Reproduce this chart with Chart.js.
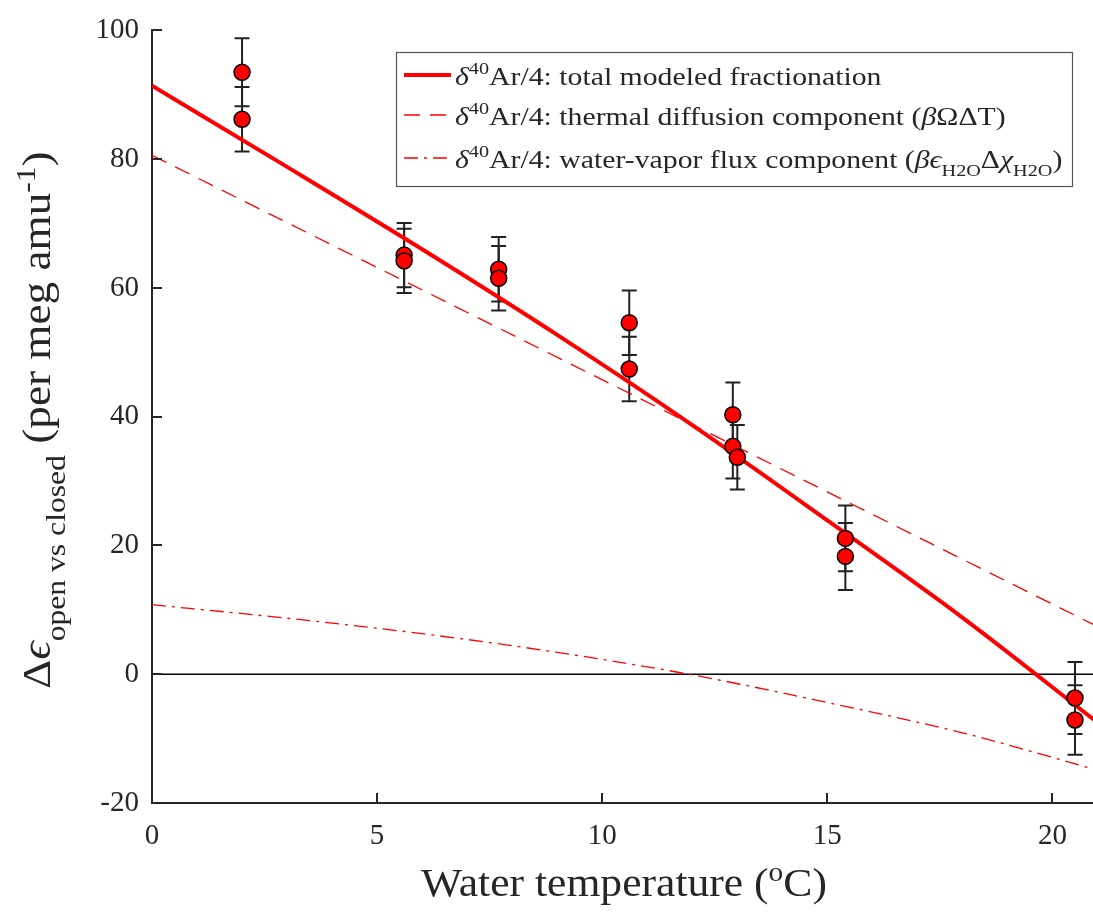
<!DOCTYPE html>
<html>
<head>
<meta charset="utf-8">
<script src="https://cdn.jsdelivr.net/npm/chart.js@4.4.1/dist/chart.umd.min.js"></script>
<style>
  html, body { margin: 0; padding: 0; background: #fff; overflow: hidden; }
  #wrap { width: 1093px; height: 919px; }
</style>
</head>
<body>
<div id="wrap"><canvas id="chart" width="1093" height="919"></canvas></div>
<script>
// Open-minus-closed Ar fractionation vs water temperature, with 1-sigma bars
const tempC     = [2.0, 2.0, 5.6, 5.6, 7.7, 7.7, 10.6, 10.6, 12.9, 12.9, 13.0, 15.4, 15.4, 20.5, 20.5];
const deltaEps  = [93.5, 86.2, 65.1, 64.2, 62.9, 61.5, 54.6, 47.4, 40.3, 35.4, 33.7, 21.1, 18.3, -3.7, -7.1];
const deltaErr  = [5.3, 5.0, 5.0, 5.0, 5.0, 5.0, 5.0, 5.0, 5.0, 5.0, 5.0, 5.1, 5.2, 5.6, 5.4];

// model curves sampled along the temperature axis
const modelTemp    = [0, 3, 6, 9, 12, 15, 18, 21];
const totalModel   = [91.4, 78.8, 66.0, 52.7, 38.7, 23.9, 8.8, -7.5];
const vaporModel   = [10.8, 8.7, 6.3, 3.4, -0.1, -4.4, -9.1, -14.9];
const thermalTemp  = [0, 21];
const thermalModel = [80.6, 7.4];

const xTicks = [0, 5, 10, 15, 20];
const yTicks = [-20, 0, 20, 40, 60, 80, 100];

const SERIF = '"Liberation Serif", "DejaVu Serif", serif';
const INK = '#262626';
const RED = '#ff0000';

const pts = (xs, ys) => xs.map((x, i) => ({ x, y: ys[i] }));

// draw a run of text pieces (normal / sub / superscript) from x on baseline y,
// stretched horizontally by k; returns the drawn width
function textRuns(ctx, runs, x, y, k, measureOnly) {
  let w = 0;
  ctx.save();
  ctx.translate(x, y);
  ctx.scale(k, 1);
  for (const r of runs) {
    ctx.font = (r.italic ? 'italic ' : '') + r.size + 'px ' + SERIF;
    if (!measureOnly) ctx.fillText(r.t, w, r.dy || 0);
    w += ctx.measureText(r.t).width;
  }
  ctx.restore();
  return w * k;
}

const errorBars = {
  id: 'errorBars',
  beforeDatasetsDraw(chart) {
    const { ctx, scales: { x, y } } = chart;
    ctx.save();
    ctx.strokeStyle = '#222';
    ctx.lineWidth = 2;
    tempC.forEach((t, i) => {
      const px = x.getPixelForValue(t);
      const top = y.getPixelForValue(deltaEps[i] + deltaErr[i]);
      const bot = y.getPixelForValue(deltaEps[i] - deltaErr[i]);
      ctx.beginPath();
      ctx.moveTo(px, top); ctx.lineTo(px, bot);
      ctx.moveTo(px - 7.5, top); ctx.lineTo(px + 7.5, top);
      ctx.moveTo(px - 7.5, bot); ctx.lineTo(px + 7.5, bot);
      ctx.stroke();
    });
    ctx.restore();
  }
};

const decor = {
  id: 'decor',
  afterDraw(chart) {
    const { ctx, chartArea: a, scales: { x, y } } = chart;
    ctx.save();
    // inward tick marks
    ctx.strokeStyle = INK;
    ctx.lineWidth = 2;
    ctx.beginPath();
    yTicks.forEach(v => {
      const py = Math.round(y.getPixelForValue(v));
      ctx.moveTo(a.left, py); ctx.lineTo(a.left + 10, py);
    });
    xTicks.forEach(v => {
      const px = Math.round(x.getPixelForValue(v));
      ctx.moveTo(px, a.bottom); ctx.lineTo(px, a.bottom - 10);
    });
    ctx.stroke();

    ctx.fillStyle = INK;
    ctx.textBaseline = 'alphabetic';

    // x title: Water temperature (°C)
    const xRuns = [
      { t: 'Water temperature (', size: 40 },
      { t: 'o', size: 27, dy: -15 },
      { t: 'C)', size: 40 }
    ];
    const xw = textRuns(ctx, xRuns, 0, 0, 1.09, true);
    textRuns(ctx, xRuns, 624 - xw / 2, 896, 1.09);

    // y title: Δϵ_open vs closed (per meg amu^-1)
    const yRuns = [
      { t: 'Δ', size: 40 },
      { t: 'ϵ', size: 40, italic: true },
      { t: 'open vs closed', size: 28, dy: 15 },
      { t: ' (per meg amu', size: 40 },
      { t: '-1', size: 28, dy: -15 },
      { t: ')', size: 40 }
    ];
    const yw = textRuns(ctx, yRuns, 0, 0, 1.13, true);
    ctx.translate(50, 420);
    ctx.rotate(-Math.PI / 2);
    textRuns(ctx, yRuns, -yw / 2, 0, 1.13);
    ctx.restore();

    // legend box
    ctx.save();
    const bx = 396.5, by = 52.5, bw = 676, bh = 134;
    ctx.fillStyle = '#fff';
    ctx.fillRect(bx, by, bw, bh);
    ctx.strokeStyle = '#555';
    ctx.lineWidth = 1.2;
    ctx.strokeRect(bx, by, bw, bh);

    const rows = [
      { y: 75, width: 4, dash: [], runs: [{ t: 'total modeled fractionation', size: 25 }] },
      { y: 115, width: 1.3, dash: [16, 10], runs: [
        { t: 'thermal diffusion component (', size: 25 },
        { t: 'β', size: 25, italic: true },
        { t: 'ΩΔT)', size: 25 }
      ] },
      { y: 158, width: 1.3, dash: [14, 6, 3, 6], runs: [
        { t: 'water-vapor flux component (', size: 25 },
        { t: 'βϵ', size: 25, italic: true },
        { t: 'H2O', size: 17, dy: 8 },
        { t: 'Δ', size: 25 },
        { t: 'χ', size: 25, italic: true },
        { t: 'H2O', size: 17, dy: 8 },
        { t: ')', size: 25 }
      ] }
    ];
    rows.forEach(r => {
      ctx.strokeStyle = RED;
      ctx.lineWidth = r.width;
      ctx.setLineDash(r.dash);
      ctx.beginPath();
      ctx.moveTo(404, r.y); ctx.lineTo(451, r.y);
      ctx.stroke();
      ctx.setLineDash([]);
      ctx.fillStyle = INK;
      const lead = [
        { t: 'δ', size: 25, italic: true },
        { t: '40', size: 17, dy: -11 },
        { t: 'Ar/4: ', size: 25 }
      ];
      textRuns(ctx, lead.concat(r.runs), 455, r.y + 10, 1.19);
    });
    ctx.restore();
  }
};

new Chart(document.getElementById('chart'), {
  type: 'scatter',
  data: {
    datasets: [
      {
        label: 'zero',
        data: pts([0, 21], [0, 0]),
        showLine: true, borderColor: '#000', borderWidth: 1.5,
        pointRadius: 0, order: 6
      },
      {
        label: 'thermal diffusion component',
        data: pts(thermalTemp, thermalModel),
        showLine: true, borderColor: RED, borderWidth: 1.3, borderDash: [16, 10],
        pointRadius: 0, order: 4
      },
      {
        label: 'water-vapor flux component',
        data: pts(modelTemp, vaporModel),
        showLine: true, borderColor: RED, borderWidth: 1.3, borderDash: [14, 6, 3, 6],
        cubicInterpolationMode: 'monotone',
        pointRadius: 0, order: 4
      },
      {
        label: 'total modeled fractionation',
        data: pts(modelTemp, totalModel),
        showLine: true, borderColor: RED, borderWidth: 4,
        cubicInterpolationMode: 'monotone',
        pointRadius: 0, order: 2
      },
      {
        label: 'measurements',
        data: pts(tempC, deltaEps),
        pointRadius: 8, pointBackgroundColor: RED,
        pointBorderColor: '#000', pointBorderWidth: 1.5,
        order: 0
      }
    ]
  },
  options: {
    responsive: false,
    devicePixelRatio: 1,
    animation: false,
    layout: { autoPadding: false, padding: { top: 28, right: 0, left: 0, bottom: 0 } },
    plugins: { legend: { display: false }, tooltip: { enabled: false } },
    scales: {
      x: {
        type: 'linear', min: 0, max: 20.9,
        afterBuildTicks: s => { s.ticks = xTicks.map(v => ({ value: v })); },
        afterFit: s => { s.height = 116; s.paddingLeft = 0; s.paddingRight = 0; },
        grid: { display: false, drawTicks: false },
        border: { display: true, color: INK, width: 2 },
        ticks: { color: INK, padding: 16, maxRotation: 0, font: { family: SERIF, size: 29 } }
      },
      y: {
        type: 'linear', min: -20, max: 100,
        afterBuildTicks: s => { s.ticks = yTicks.map(v => ({ value: v })); },
        afterFit: s => { s.width = 152; },
        grid: { display: false, drawTicks: false },
        border: { display: true, color: INK, width: 2 },
        ticks: { color: INK, padding: 13, font: { family: SERIF, size: 29 } }
      }
    }
  },
  plugins: [errorBars, decor]
});
</script>
</body>
</html>
